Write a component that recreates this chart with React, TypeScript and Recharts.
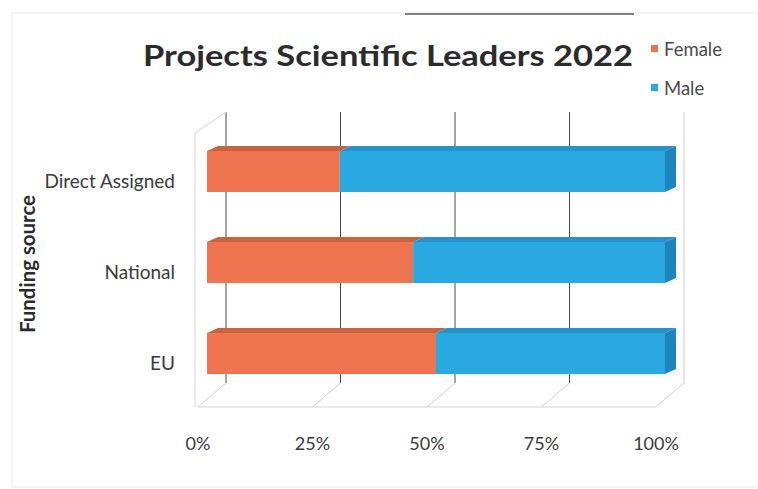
import React from 'react';
import { BarChart, Bar, XAxis, YAxis, CartesianGrid, Legend } from 'recharts';

const categories = ['Direct Assigned', 'National', 'EU'];
const femaleShare = [29, 45, 50];
const maleShare = [71, 55, 50];
const percentTicks = [0, 25, 50, 75, 100];

const seriesInfo = [
  { key: 'female', name: 'Female', color: '#EE7550', top: '#C8633F' },
  { key: 'male', name: 'Male', color: '#2AA9E1', top: '#2592CB', side: '#1E84BF' },
];

const data = categories.map((name, i) => ({
  name,
  female: femaleShare[i],
  male: maleShare[i],
}));

// plot box (front face of the bars)
const W = 758;
const H = 489;
const LEFT = 207;
const RIGHT = 665;
const TOP = 126;
const BOTTOM = 399;

// 3d offsets
const BAR_DX = 11;
const BAR_DY = 5;
const WALL_DX = 19;
const FLOOR_DX = -9;

const FONT = 'Lato, "Open Sans", sans-serif';

const barShape = (withSide: boolean, front: string, top: string, side?: string) => (props: any) => {
  const { x, y, width, height } = props;
  if (!width || width <= 0) return <g />;
  return (
    <g>
      <polygon
        points={`${x},${y} ${x + BAR_DX},${y - BAR_DY} ${x + width + BAR_DX},${y - BAR_DY} ${x + width},${y}`}
        fill={top}
      />
      {withSide && (
        <polygon
          points={`${x + width},${y} ${x + width + BAR_DX},${y - BAR_DY} ${x + width + BAR_DX},${y + height - BAR_DY} ${x + width},${y + height}`}
          fill={side}
        />
      )}
      <rect x={x} y={y} width={width} height={height} fill={front} />
    </g>
  );
};

const gridLine = (props: any) => {
  const { x1, y1, y2, index } = props;
  const bx = x1 + WALL_DX;
  const backTop = y1 - 14;
  const backBottom = y2 - 16;
  const fx = x1 + FLOOR_DX;
  const floorY = y2 + 8;
  const last = index === percentTicks.length - 1;
  return (
    <g key={`grid-${index}`}>
      <line x1={bx} y1={backTop} x2={bx} y2={backBottom} stroke={last ? '#cfcfcf' : '#4a4a4a'} strokeWidth={1} />
      <line x1={bx} y1={backBottom} x2={fx} y2={floorY} stroke="#cfcfcf" strokeWidth={1} />
      {index === 0 && (
        <g>
          <line x1={fx - 3} y1={y1 + 7} x2={fx - 3} y2={floorY} stroke="#d6d6d6" />
          <line x1={fx - 3} y1={y1 + 7} x2={bx} y2={backTop} stroke="#d6d6d6" />
          <line x1={fx} y1={floorY} x2={RIGHT + FLOOR_DX} y2={floorY} stroke="#d6d6d6" />
        </g>
      )}
    </g>
  );
};

const CategoryTick = (props: any) => {
  const { y, payload } = props;
  return (
    <text x={LEFT - 32} y={y + 16} textAnchor="end" fontFamily={FONT} fontSize={19} fill="#3a3a3a">
      {payload.value}
    </text>
  );
};

const PercentTick = (props: any) => {
  const { x, payload } = props;
  return (
    <text x={x - 9} y={BOTTOM + 51} textAnchor="middle" fontFamily={FONT} fontSize={18} fill="#3a3a3a">
      {`${payload.value}%`}
    </text>
  );
};

const LegendBox = () => (
  <div style={{ fontFamily: FONT, fontSize: 18.5, color: '#4a4a4a' }}>
    {seriesInfo.map((s) => (
      <div key={s.key} style={{ display: 'flex', alignItems: 'center', height: 39 }}>
        <span style={{ width: 7, height: 7, background: s.color, marginRight: 6, display: 'inline-block' }} />
        <span>{s.name}</span>
      </div>
    ))}
  </div>
);

const App: React.FC = () => {
  return (
    <div style={{ position: 'absolute', left: 0, top: 0, background: '#fff' }}>
      <BarChart
        width={W}
        height={H}
        data={data}
        layout="vertical"
        margin={{ top: TOP, right: W - RIGHT, bottom: H - BOTTOM - 1, left: LEFT - 1 }}
        barCategoryGap={0}
      >
        <rect x={12} y={13} width={760} height={474} fill="none" stroke="#ececec" />
        <line x1={405} y1={14} x2={634} y2={14} stroke="#555" strokeWidth={1.5} />
        <text
          x={388}
          y={66}
          textAnchor="middle"
          fontFamily={FONT}
          fontWeight={700}
          fontSize={29}
          fill="#2b2b2b"
          textLength={490}
          lengthAdjust="spacingAndGlyphs"
        >
          Projects Scientific Leaders 2022
        </text>
        <text
          x={0}
          y={0}
          transform="translate(35,264) rotate(-90)"
          textAnchor="middle"
          fontFamily={FONT}
          fontWeight={700}
          fontSize={20}
          fill="#2b2b2b"
          textLength={138}
          lengthAdjust="spacingAndGlyphs"
        >
          Funding source
        </text>
        <CartesianGrid horizontal={false} vertical={gridLine} />
        <XAxis
          type="number"
          domain={[0, 100]}
          ticks={percentTicks}
          height={1}
          axisLine={false}
          tickLine={false}
          tickSize={0}
          tickMargin={0}
          tick={<PercentTick />}
        />
        <YAxis
          type="category"
          dataKey="name"
          width={1}
          axisLine={false}
          tickLine={false}
          tickSize={0}
          tickMargin={0}
          tick={<CategoryTick />}
        />
        <Legend
          layout="vertical"
          align="center"
          verticalAlign="middle"
          wrapperStyle={{ left: 651, top: 29, width: 105 }}
          content={<LegendBox />}
        />
        <Bar
          dataKey="female"
          name="Female"
          stackId="a"
          barSize={41}
          fill={seriesInfo[0].color}
          shape={barShape(false, seriesInfo[0].color, seriesInfo[0].top)}
          isAnimationActive={false}
        />
        <Bar
          dataKey="male"
          name="Male"
          stackId="a"
          barSize={41}
          fill={seriesInfo[1].color}
          shape={barShape(true, seriesInfo[1].color, seriesInfo[1].top, seriesInfo[1].side)}
          isAnimationActive={false}
        />
      </BarChart>
    </div>
  );
};

export default App;
